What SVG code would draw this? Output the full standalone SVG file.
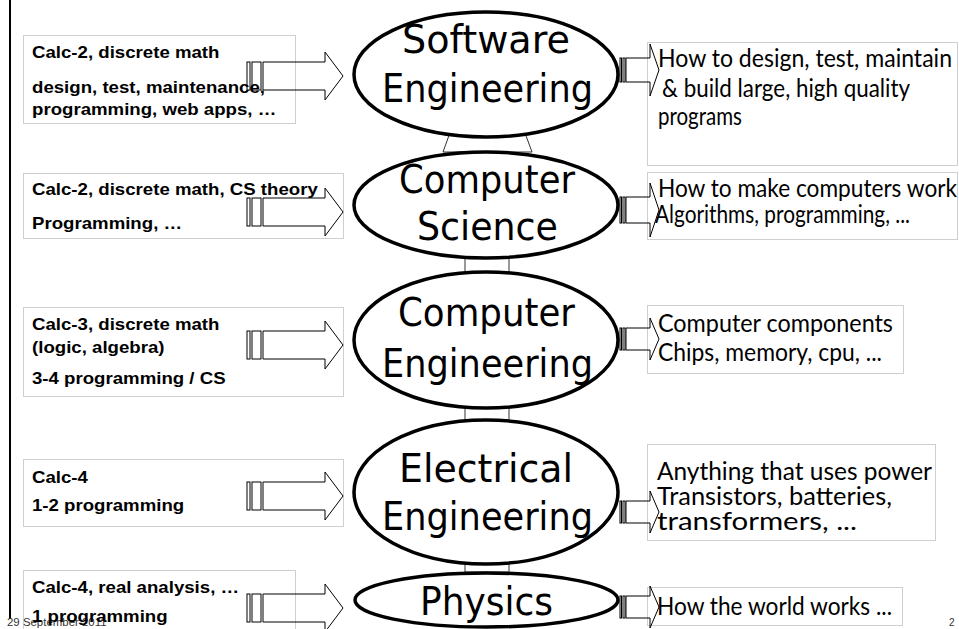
<svg xmlns="http://www.w3.org/2000/svg" xmlns:xlink="http://www.w3.org/1999/xlink" width="959" height="629" viewBox="0 0 959 629">
<style>
.box{fill:#fff;stroke:#cfcfcf;stroke-width:1}
.lt{font-family:"Liberation Sans",Arial,sans-serif;font-weight:bold;font-size:16.3px;fill:#000}
.rt{font-family:Lato,"Noto Sans",sans-serif;font-size:25px;fill:#000}
.et{font-family:"DejaVu Sans",sans-serif;font-size:39px;fill:#000}
.ell{fill:#fff;stroke:#000;stroke-width:3.5}
.arr{fill:none;stroke:#000;stroke-width:1}
.up{fill:#fff;stroke:#333;stroke-width:1}
.ft{font-family:"Liberation Sans",Arial,sans-serif;font-size:10px;fill:#333}
</style>
<defs>
<g id="la"><rect x="247" y="-14" width="3" height="28"/><rect x="252" y="-14" width="9" height="28"/><path d="M263,-14H325V-24L343,0L325,24V14H263Z"/></g>
</defs>
<rect x="9" y="0" width="2" height="619" fill="#000"/>

<g id="in-se">
<rect class="box" x="23.5" y="35.5" width="272" height="88"/>
<text class="lt" transform="matrix(1.144 0 0 1 32 58)">Calc-2, discrete math</text>
<text class="lt" transform="matrix(1.144 0 0 1 32 93)">design, test, maintenance,</text>
<text class="lt" transform="matrix(1.144 0 0 1 32 115)">programming, web apps, …</text>
</g>
<g id="in-cs">
<rect class="box" x="23.5" y="173.5" width="320" height="65"/>
<text class="lt" transform="matrix(1.144 0 0 1 32 195)">Calc-2, discrete math, CS theory</text>
<text class="lt" transform="matrix(1.144 0 0 1 32 229)">Programming, …</text>
</g>
<g id="in-ce">
<rect class="box" x="23.5" y="307.5" width="320" height="89"/>
<text class="lt" transform="matrix(1.144 0 0 1 32 330)">Calc-3, discrete math</text>
<text class="lt" transform="matrix(1.144 0 0 1 32 353)">(logic, algebra)</text>
<text class="lt" transform="matrix(1.144 0 0 1 32 384)">3-4 programming / CS</text>
</g>
<g id="in-ee">
<rect class="box" x="23.5" y="459.5" width="320" height="67"/>
<text class="lt" transform="matrix(1.144 0 0 1 32 483)">Calc-4</text>
<text class="lt" transform="matrix(1.144 0 0 1 32 511)">1-2 programming</text>
</g>
<g id="in-ph">
<rect class="box" x="23.5" y="570.5" width="272" height="70"/>
<text class="ft" transform="matrix(1.144 0 0 1 7 626)">29 September 2011</text>
<text class="lt" transform="matrix(1.144 0 0 1 32 622)">1 programming</text>
<text class="lt" transform="matrix(1.144 0 0 1 32 593)">Calc-4, real analysis, …</text>
</g>

<g id="out-se">
<rect class="box" x="647.5" y="42.5" width="310" height="123"/>
<text class="rt" x="658" y="67" textLength="294" lengthAdjust="spacingAndGlyphs">How to design, test, maintain</text>
<text class="rt" x="662" y="97" textLength="248" lengthAdjust="spacingAndGlyphs">&amp; build large, high quality</text>
<text class="rt" x="658" y="125" textLength="84" lengthAdjust="spacingAndGlyphs">programs</text>
</g>
<g id="out-cs">
<rect class="box" x="647.5" y="172.5" width="310" height="67"/>
<text class="rt" x="658" y="197" textLength="299" lengthAdjust="spacingAndGlyphs">How to make computers work</text>
<text class="rt" x="655" y="223" textLength="255" lengthAdjust="spacingAndGlyphs">Algorithms, programming, ...</text>
</g>
<g id="out-ce">
<rect class="box" x="647.5" y="305.5" width="256" height="68"/>
<text class="rt" x="658" y="332" textLength="235" lengthAdjust="spacingAndGlyphs">Computer components</text>
<text class="rt" x="658" y="361" textLength="224" lengthAdjust="spacingAndGlyphs">Chips, memory, cpu, ...</text>
</g>
<g id="out-ee">
<rect class="box" x="647.5" y="444.5" width="288" height="96"/>
<text class="rt" x="657" y="480" textLength="275" lengthAdjust="spacingAndGlyphs">Anything that uses power</text>
<text class="rt" x="657" y="505" textLength="235" lengthAdjust="spacingAndGlyphs">Transistors, batteries,</text>
<text class="rt" x="657" y="530" textLength="200" lengthAdjust="spacingAndGlyphs">transformers, ...</text>
</g>
<g id="out-ph">
<rect class="box" x="647.5" y="587.5" width="255" height="38"/>
<text class="rt" x="657" y="615" textLength="235" lengthAdjust="spacingAndGlyphs">How the world works ...</text>
</g>

<g id="connectors">
<use xlink:href="#la" y="76" class="arr"/>
<use xlink:href="#la" y="212" class="arr"/>
<use xlink:href="#la" y="345" class="arr"/>
<use xlink:href="#la" y="496" class="arr"/>
<use xlink:href="#la" y="608" class="arr"/>
<g class="arr">
<rect x="620" y="58" width="1.5" height="24"/><rect x="623" y="58" width="2" height="24"/><path d="M626,58H650V44L659,70L650,96V82H626Z"/>
<rect x="620" y="197" width="1.5" height="26"/><rect x="623" y="197" width="2" height="26"/><path d="M626,197H650V183L659,210L650,237V223H626Z"/>
<rect x="620" y="328" width="1.5" height="22"/><rect x="623" y="328" width="2" height="22"/><path d="M626,328H650V318L659,339L650,360V350H626Z"/>
<rect x="620" y="501" width="1.5" height="22"/><rect x="623" y="501" width="2" height="22"/><path d="M626,501H650V491L659,512L650,533V523H626Z"/>
<rect x="620" y="596" width="1.5" height="22"/><rect x="623" y="596" width="2" height="22"/><path d="M626,596H650V586L659,607L650,628V618H626Z"/>
</g>
<path class="up" d="M465,572V152H443L487,30L532,152H509V572Z"/>
</g>

<g id="se">
<ellipse class="ell" cx="486" cy="74.5" rx="132" ry="62.5"/>
<text class="et" x="402" y="53" textLength="168" lengthAdjust="spacingAndGlyphs">Software</text>
<text class="et" x="382" y="102" textLength="211" lengthAdjust="spacingAndGlyphs">Engineering</text>
</g>
<g id="cs">
<ellipse class="ell" cx="486" cy="205" rx="132" ry="53"/>
<text class="et" x="399" y="193" textLength="176" lengthAdjust="spacingAndGlyphs">Computer</text>
<text class="et" x="417" y="240" textLength="141" lengthAdjust="spacingAndGlyphs">Science</text>
</g>
<g id="ce">
<ellipse class="ell" cx="486" cy="340" rx="132" ry="68"/>
<text class="et" x="398" y="326" textLength="177" lengthAdjust="spacingAndGlyphs">Computer</text>
<text class="et" x="382" y="377" textLength="211" lengthAdjust="spacingAndGlyphs">Engineering</text>
</g>
<g id="ee">
<ellipse class="ell" cx="486" cy="492" rx="132" ry="72"/>
<text class="et" x="399" y="482" textLength="174" lengthAdjust="spacingAndGlyphs">Electrical</text>
<text class="et" x="382" y="530" textLength="211" lengthAdjust="spacingAndGlyphs">Engineering</text>
</g>
<g id="ph">
<ellipse class="ell" cx="486.5" cy="600" rx="131.5" ry="27"/>
<text class="et" x="420" y="615" textLength="133" lengthAdjust="spacingAndGlyphs">Physics</text>
</g>
<text class="ft" x="949" y="626">2</text>
</svg>
